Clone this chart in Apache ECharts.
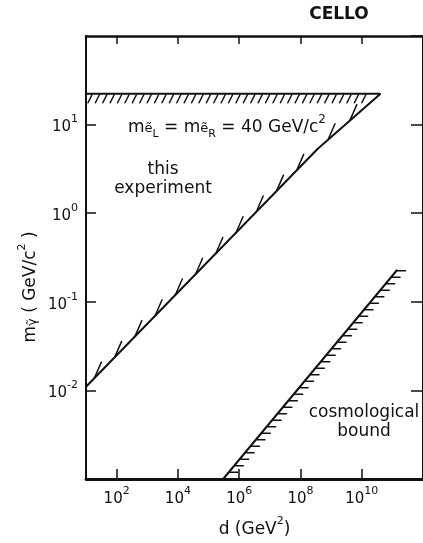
<!DOCTYPE html>
<html><head><meta charset="utf-8">
<script src="https://cdn.jsdelivr.net/npm/echarts@6/dist/echarts.min.js"></script>
<style>html,body{margin:0;padding:0;background:#fff}#c{width:423px;height:543px}</style>
</head><body><div id="c"></div>
<script>
// ---- data ----
const xRange = [10, 1e12];          // d (GeV^2)
const yRange = [0.001, 100];        // m_photino (GeV/c^2)
const experimentTop = [[10, 22.3], [4.1e10, 22.3]];
const experimentDiagonal = [[10, 0.011], [3.6e8, 5.3], [4.1e10, 22.3]];
const cosmologicalBound = [[3e5, 0.001], [1.45e11, 0.23]];
const massLabel = ['m', 'ẽ', 'L', ' = m', 'ẽ', 'R', ' = 40 GeV/c', '2'];

const FONT = 'DejaVu Sans';
const INK = '#111';

function segs(pts) {
  const out = [];
  for (let i = 0; i < pts.length - 1; i++) out.push([pts[i][0], pts[i][1], pts[i + 1][0], pts[i + 1][1]]);
  return out;
}

// hatch painters (work in pixel space from the library's coordinates)
function hatchRender(kind) {
  return function (params, api) {
    const a = api.coord([api.value(0), api.value(1)]);
    const b = api.coord([api.value(2), api.value(3)]);
    const children = [];
    const st = { stroke: INK, lineWidth: 1.5, lineCap: 'round' };
    const dx = b[0] - a[0], dy = b[1] - a[1];
    if (kind === 'below') {
      for (let x = a[0] + 6; x <= b[0] - 8; x += 7.4) {
        children.push({ type: 'line', shape: { x1: x, y1: a[1] + 1, x2: x - 4, y2: a[1] + 9 }, style: st });
      }
    } else if (kind === 'barb') {
      const L = Math.hypot(dx, dy);
      const start = params.dataIndex === 0 ? 12 : 14;
      const stop = params.dataIndex === 0 ? L - 6 : L - 22;
      for (let s = start; s < stop; s += 29) {
        const px = a[0] + dx * s / L, py = a[1] + dy * s / L;
        children.push({ type: 'line', shape: { x1: px, y1: py, x2: px + 7, y2: py - 16 }, style: st });
      }
    } else if (kind === 'right') {
      const top = Math.min(a[1], b[1]), bot = Math.max(a[1], b[1]);
      for (let yy = top + 1; yy <= bot - 2; yy += 6.5) {
        const px = a[0] + dx * (yy - a[1]) / dy;
        children.push({ type: 'line', shape: { x1: px + 1, y1: yy, x2: px + 9, y2: yy }, style: st });
      }
    }
    return { type: 'group', children };
  };
}

function powLabel(v) {
  const e = Math.round(Math.log10(v));
  return '{b|10}{s|' + e + '}';
}
const tickRich = {
  b: { fontFamily: FONT, fontSize: 15, color: INK, verticalAlign: 'top', padding: [6, 0, 0, 0] },
  s: { fontFamily: FONT, fontSize: 11, color: INK, verticalAlign: 'top', padding: [0, 0, 0, 0] }
};

const axisLine = (w) => ({ show: true, onZero: false, lineStyle: { color: INK, width: w } });

const option = {
  animation: false,
  backgroundColor: '#fff',
  grid: { left: 86, right: -5, top: 36, bottom: 61 },
  xAxis: [
    {
      type: 'log', logBase: 100, min: xRange[0], max: xRange[1], position: 'bottom',
      axisLine: axisLine(2.8),
      axisTick: { inside: true, length: 10, lineStyle: { color: INK, width: 1.5 } },
      axisLabel: { formatter: powLabel, rich: tickRich, margin: 7, showMinLabel: false, showMaxLabel: false },
      splitLine: { show: false },
      name: '{t|d (GeV}{s|2}{t|)}', nameLocation: 'middle', nameGap: 37,
      nameTextStyle: { rich: {
        t: { fontFamily: FONT, fontSize: 17, color: INK, verticalAlign: 'top', padding: [5, 0, 0, 0] },
        s: { fontFamily: FONT, fontSize: 11, color: INK, verticalAlign: 'top', padding: [0, 0, 0, 0] } } }
    },
    {
      type: 'log', logBase: 100, min: xRange[0], max: xRange[1], position: 'top',
      axisLine: axisLine(2.5),
      axisTick: { inside: true, length: 8, lineStyle: { color: INK, width: 1.5 } },
      axisLabel: { show: false }, splitLine: { show: false }
    }
  ],
  yAxis: [
    {
      type: 'log', logBase: 10, min: yRange[0], max: yRange[1], position: 'left',
      axisLine: axisLine(2),
      axisTick: { inside: true, length: 10, lineStyle: { color: INK, width: 1.5 } },
      axisLabel: { formatter: powLabel, rich: tickRich, margin: 8, showMinLabel: false, showMaxLabel: false },
      splitLine: { show: false }
    },
    {
      type: 'log', logBase: 10, min: yRange[0], max: yRange[1], position: 'right',
      axisLine: axisLine(2),
      axisTick: { inside: true, length: 12, lineStyle: { color: INK, width: 1.5 } },
      axisLabel: { show: false }, splitLine: { show: false }
    }
  ],
  series: [
    { type: 'line', data: experimentTop, symbol: 'none', lineStyle: { color: INK, width: 2.2 }, z: 4 },
    { type: 'line', data: experimentDiagonal, symbol: 'none', lineStyle: { color: INK, width: 2 }, z: 4 },
    { type: 'line', data: cosmologicalBound, symbol: 'none', lineStyle: { color: INK, width: 2 }, z: 4 },
    { type: 'custom', renderItem: hatchRender('below'), data: segs(experimentTop), encode: { x: [0, 2], y: [1, 3] }, silent: true, z: 3 },
    { type: 'custom', renderItem: hatchRender('barb'), data: segs(experimentDiagonal), encode: { x: [0, 2], y: [1, 3] }, silent: true, z: 3 },
    { type: 'custom', renderItem: hatchRender('right'), data: segs(cosmologicalBound), encode: { x: [0, 2], y: [1, 3] }, silent: true, z: 3 }
  ],
  graphic: [
    { type: 'text', x: 339, y: 15, style: { text: 'CELLO', fontFamily: FONT, fontSize: 17, fontWeight: 'bold', fill: INK, align: 'center', verticalAlign: 'middle' } },
    { type: 'text', left: 128, top: 114, style: {
      text: '{t|' + massLabel[0] + '}{e|' + massLabel[1] + '}{l|' + massLabel[2] + '}{t|' + massLabel[3] + '}{e|' + massLabel[4] + '}{l|' + massLabel[5] + '}{t|' + massLabel[6] + '}{s|' + massLabel[7] + '}',
      rich: {
        t: { fontFamily: FONT, fontSize: 17, fill: INK, verticalAlign: 'top', padding: [6, 0, 0, 0] },
        e: { fontFamily: FONT, fontSize: 13, fill: INK, verticalAlign: 'top', padding: [9, 0, 0, 0] },
        l: { fontFamily: FONT, fontSize: 11, fill: INK, verticalAlign: 'top', padding: [16, 0, 0, 0] },
        s: { fontFamily: FONT, fontSize: 12, fill: INK, verticalAlign: 'top', padding: [1, 0, 0, 0] }
      } } },
    { type: 'text', x: 163, y: 160, style: { text: 'this\nexperiment', fontFamily: FONT, fontSize: 17, fill: INK, align: 'center', verticalAlign: 'top', lineHeight: 19 } },
    { type: 'text', x: 364, y: 403, style: { text: 'cosmological\nbound', fontFamily: FONT, fontSize: 17, fill: INK, align: 'center', verticalAlign: 'top', lineHeight: 19 } },
    { type: 'text', x: 28, y: 287, rotation: Math.PI / 2, style: {
      text: '{t|m}{g|γ̃}{t| ( GeV/c}{s|2}{t| )}', align: 'center', verticalAlign: 'middle',
      rich: {
        t: { fontFamily: FONT, fontSize: 17, fill: INK, verticalAlign: 'top', padding: [5, 0, 0, 0] },
        g: { fontFamily: FONT, fontSize: 13, fill: INK, verticalAlign: 'top', padding: [9, 0, 0, 0] },
        s: { fontFamily: FONT, fontSize: 11, fill: INK, verticalAlign: 'top', padding: [0, 0, 0, 0] }
      } } }
  ]
};
const chart = echarts.init(document.getElementById('c'), null, { renderer: 'canvas' });
chart.setOption(option);
</script></body></html>
